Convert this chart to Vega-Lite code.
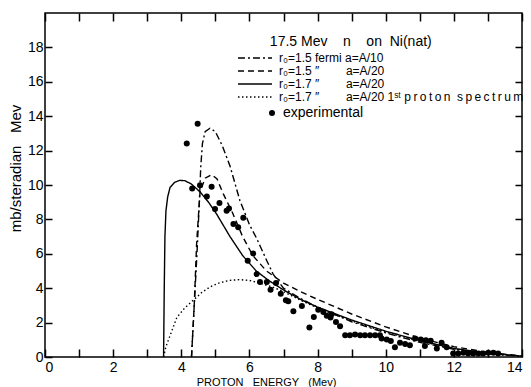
{
  "$schema": "https://vega.github.io/schema/vega-lite/v6.json",
  "width": 477,
  "height": 344,
  "autosize": {"type": "none"},
  "padding": {"left": 45, "top": 13, "right": 9, "bottom": 30},
  "background": "white",
  "config": {
    "view": {"stroke": "black", "strokeWidth": 1.5},
    "font": "Liberation Sans",
    "legend": {"padding": 0},
    "axis": {
      "grid": false,
      "domain": false,
      "ticks": true,
      "tickColor": "black",
      "tickWidth": 1.5,
      "tickOpacity": 1,
      "labelColor": "black",
      "titleColor": "black",
      "labelFont": "Liberation Sans",
      "titleFont": "Liberation Sans",
      "titleFontWeight": "normal",
      "labelFontSize": 14
    }
  },
  "datasets": {
    "curves": [
      {"model": "A", "x": 4.3, "y": 0}, {"model": "A", "x": 4.38, "y": 3}, {"model": "A", "x": 4.46, "y": 6}, {"model": "A", "x": 4.53, "y": 9}, {"model": "A", "x": 4.57, "y": 11}, {"model": "A", "x": 4.62, "y": 12.4}, {"model": "A", "x": 4.7, "y": 13.1}, {"model": "A", "x": 4.84, "y": 13.3}, {"model": "A", "x": 5.0, "y": 13.1}, {"model": "A", "x": 5.2, "y": 12.3}, {"model": "A", "x": 5.43, "y": 11.1}, {"model": "A", "x": 5.72, "y": 9.1}, {"model": "A", "x": 6.0, "y": 7.7}, {"model": "A", "x": 6.21, "y": 6.9}, {"model": "A", "x": 6.51, "y": 5.6}, {"model": "A", "x": 6.7, "y": 4.8}, {"model": "A", "x": 7.0, "y": 4.0}, {"model": "A", "x": 7.5, "y": 3.4}, {"model": "A", "x": 8, "y": 2.9}, {"model": "A", "x": 9, "y": 2.05}, {"model": "A", "x": 10, "y": 1.4}, {"model": "A", "x": 11, "y": 0.85}, {"model": "A", "x": 12, "y": 0.45}, {"model": "A", "x": 13, "y": 0.18}, {"model": "A", "x": 14, "y": 0.04},
      {"model": "B", "x": 4.3, "y": 0}, {"model": "B", "x": 4.38, "y": 3}, {"model": "B", "x": 4.45, "y": 6.6}, {"model": "B", "x": 4.55, "y": 9.6}, {"model": "B", "x": 4.7, "y": 10.4}, {"model": "B", "x": 4.89, "y": 10.6}, {"model": "B", "x": 5.05, "y": 10.35}, {"model": "B", "x": 5.23, "y": 9.5}, {"model": "B", "x": 5.5, "y": 8.4}, {"model": "B", "x": 5.8, "y": 7.0}, {"model": "B", "x": 6.1, "y": 5.9}, {"model": "B", "x": 6.5, "y": 5.0}, {"model": "B", "x": 7, "y": 4.3}, {"model": "B", "x": 7.5, "y": 3.8}, {"model": "B", "x": 8, "y": 3.35}, {"model": "B", "x": 9, "y": 2.5}, {"model": "B", "x": 10, "y": 1.75}, {"model": "B", "x": 11, "y": 1.1}, {"model": "B", "x": 12, "y": 0.6}, {"model": "B", "x": 13, "y": 0.27}, {"model": "B", "x": 14, "y": 0.06},
      {"model": "C", "x": 3.48, "y": 0}, {"model": "C", "x": 3.5, "y": 4}, {"model": "C", "x": 3.52, "y": 7}, {"model": "C", "x": 3.55, "y": 8.5}, {"model": "C", "x": 3.6, "y": 9.3}, {"model": "C", "x": 3.67, "y": 9.86}, {"model": "C", "x": 3.8, "y": 10.15}, {"model": "C", "x": 3.95, "y": 10.27}, {"model": "C", "x": 4.11, "y": 10.25}, {"model": "C", "x": 4.3, "y": 10.05}, {"model": "C", "x": 4.55, "y": 9.6}, {"model": "C", "x": 4.8, "y": 9.0}, {"model": "C", "x": 5.04, "y": 8.3}, {"model": "C", "x": 5.43, "y": 7.0}, {"model": "C", "x": 5.8, "y": 5.9}, {"model": "C", "x": 6.2, "y": 5.0}, {"model": "C", "x": 6.6, "y": 4.4}, {"model": "C", "x": 7, "y": 3.9}, {"model": "C", "x": 7.5, "y": 3.35}, {"model": "C", "x": 8, "y": 2.9}, {"model": "C", "x": 9, "y": 2.15}, {"model": "C", "x": 10, "y": 1.5}, {"model": "C", "x": 11, "y": 0.95}, {"model": "C", "x": 12, "y": 0.5}, {"model": "C", "x": 13, "y": 0.22}, {"model": "C", "x": 14, "y": 0.05},
      {"model": "D", "x": 3.48, "y": 0}, {"model": "D", "x": 3.55, "y": 0.6}, {"model": "D", "x": 3.7, "y": 1.4}, {"model": "D", "x": 3.87, "y": 2.3}, {"model": "D", "x": 4.1, "y": 2.85}, {"model": "D", "x": 4.35, "y": 3.3}, {"model": "D", "x": 4.6, "y": 3.75}, {"model": "D", "x": 4.84, "y": 4.07}, {"model": "D", "x": 5.1, "y": 4.3}, {"model": "D", "x": 5.4, "y": 4.45}, {"model": "D", "x": 5.7, "y": 4.5}, {"model": "D", "x": 6.0, "y": 4.45}, {"model": "D", "x": 6.3, "y": 4.3}, {"model": "D", "x": 6.7, "y": 4.05}, {"model": "D", "x": 7, "y": 3.8}, {"model": "D", "x": 7.5, "y": 3.3}, {"model": "D", "x": 8, "y": 2.85}, {"model": "D", "x": 9, "y": 2.1}, {"model": "D", "x": 10, "y": 1.45}, {"model": "D", "x": 11, "y": 0.92}, {"model": "D", "x": 12, "y": 0.48}, {"model": "D", "x": 13, "y": 0.2}, {"model": "D", "x": 14, "y": 0.05}
    ],
    "expt": [
      {"kind": "experimental", "x": 4.48, "y": 13.56}, {"kind": "experimental", "x": 4.16, "y": 12.42}, {"kind": "experimental", "x": 4.32, "y": 9.8}, {"kind": "experimental", "x": 4.55, "y": 9.99}, {"kind": "experimental", "x": 4.89, "y": 9.9}, {"kind": "experimental", "x": 4.75, "y": 9.33}, {"kind": "experimental", "x": 5.12, "y": 8.95}, {"kind": "experimental", "x": 4.99, "y": 8.6}, {"kind": "experimental", "x": 5.33, "y": 8.5}, {"kind": "experimental", "x": 5.4, "y": 8.64}, {"kind": "experimental", "x": 5.82, "y": 8.1}, {"kind": "experimental", "x": 5.53, "y": 7.73}, {"kind": "experimental", "x": 5.67, "y": 7.54}, {"kind": "experimental", "x": 6.11, "y": 6.02}, {"kind": "experimental", "x": 5.95, "y": 5.6}, {"kind": "experimental", "x": 6.21, "y": 4.82}, {"kind": "experimental", "x": 6.31, "y": 4.36}, {"kind": "experimental", "x": 6.51, "y": 4.36}, {"kind": "experimental", "x": 6.62, "y": 3.91}, {"kind": "experimental", "x": 6.78, "y": 4.3}, {"kind": "experimental", "x": 6.92, "y": 3.68}, {"kind": "experimental", "x": 7.07, "y": 3.3}, {"kind": "experimental", "x": 7.14, "y": 3.24}, {"kind": "experimental", "x": 7.29, "y": 2.66}, {"kind": "experimental", "x": 7.54, "y": 2.97}, {"kind": "experimental", "x": 7.89, "y": 2.33}, {"kind": "experimental", "x": 7.76, "y": 1.72}, {"kind": "experimental", "x": 8.02, "y": 2.75}, {"kind": "experimental", "x": 8.17, "y": 2.62}, {"kind": "experimental", "x": 8.27, "y": 2.4}, {"kind": "experimental", "x": 8.41, "y": 2.49}, {"kind": "experimental", "x": 8.38, "y": 2.3}, {"kind": "experimental", "x": 8.54, "y": 2.04}, {"kind": "experimental", "x": 8.66, "y": 1.79}, {"kind": "experimental", "x": 8.81, "y": 1.27}, {"kind": "experimental", "x": 8.95, "y": 1.27}, {"kind": "experimental", "x": 9.1, "y": 1.31}, {"kind": "experimental", "x": 9.25, "y": 1.27}, {"kind": "experimental", "x": 9.39, "y": 1.27}, {"kind": "experimental", "x": 9.54, "y": 1.27}, {"kind": "experimental", "x": 9.69, "y": 1.27}, {"kind": "experimental", "x": 9.83, "y": 1.27}, {"kind": "experimental", "x": 9.88, "y": 1.08}, {"kind": "experimental", "x": 10.03, "y": 1.02}, {"kind": "experimental", "x": 10.15, "y": 0.93}, {"kind": "experimental", "x": 10.27, "y": 0.56}, {"kind": "experimental", "x": 10.42, "y": 0.83}, {"kind": "experimental", "x": 10.57, "y": 0.75}, {"kind": "experimental", "x": 10.71, "y": 0.69}, {"kind": "experimental", "x": 10.86, "y": 1.08}, {"kind": "experimental", "x": 11.03, "y": 1.02}, {"kind": "experimental", "x": 11.18, "y": 0.98}, {"kind": "experimental", "x": 11.32, "y": 0.94}, {"kind": "experimental", "x": 11.15, "y": 0.64}, {"kind": "experimental", "x": 11.5, "y": 0.5}, {"kind": "experimental", "x": 11.64, "y": 0.83}, {"kind": "experimental", "x": 11.79, "y": 0.56}, {"kind": "experimental", "x": 11.98, "y": 0.21}, {"kind": "experimental", "x": 12.13, "y": 0.21}, {"kind": "experimental", "x": 12.28, "y": 0.24}, {"kind": "experimental", "x": 12.42, "y": 0.21}, {"kind": "experimental", "x": 12.57, "y": 0.21}, {"kind": "experimental", "x": 12.72, "y": 0.21}, {"kind": "experimental", "x": 12.86, "y": 0.21}, {"kind": "experimental", "x": 13.01, "y": 0.24}, {"kind": "experimental", "x": 13.16, "y": 0.24}, {"kind": "experimental", "x": 13.3, "y": 0.21}
    ]
  },
  "layer": [
    {
      "data": {"name": "curves"},
      "mark": {"type": "line", "color": "black", "strokeWidth": 1.4},
      "encoding": {
        "x": {
          "field": "x", "type": "quantitative",
          "scale": {"domain": [0, 14], "nice": false},
          "axis": {
            "orient": "bottom",
            "values": [0, 1, 2, 3, 4, 5, 6, 7, 8, 9, 10, 11, 12, 13, 14],
            "labelExpr": "datum.value % 2 === 0 ? datum.label : ''",
            "offset": -8,
            "tickSize": 8,
            "labelPadding": 3,
            "title": "PROTON\u00a0\u00a0\u00a0ENERGY\u00a0\u00a0\u00a0(Mev)",
            "titleFontSize": 11,
            "titleX": 221,
            "titleY": 36,
            "titleBaseline": "alphabetic"
          }
        },
        "y": {
          "field": "y", "type": "quantitative",
          "scale": {"domain": [0, 20], "nice": false},
          "axis": {
            "orient": "left",
            "values": [0, 2, 4, 6, 8, 10, 12, 14, 16, 18],
            "offset": -7,
            "tickSize": 7,
            "labelPadding": 2,
            "title": "mb/steradian\u00a0\u00a0\u00a0Mev",
            "titleFontSize": 15,
            "titleAngle": -90,
            "titleX": -37,
            "titleY": 155,
            "titleBaseline": "middle",
            "titleAlign": "center"
          }
        },
        "strokeDash": {
          "field": "model", "type": "nominal",
          "scale": {"domain": ["A", "B", "C", "D"], "range": [[7, 3, 2, 3], [6, 4], [1, 0], [1.5, 2.5]]},
          "legend": {
            "orient": "none",
            "legendX": 204,
            "legendY": 39,
            "title": null,
            "symbolType": "M-5.667,0H5.667",
            "symbolSize": 36,
            "symbolStrokeColor": "black",
            "symbolStrokeWidth": 1.3,
            "labelFontSize": 12,
            "labelFont": "Liberation Sans",
            "labelColor": "black",
            "labelOffset": 18,
            "rowPadding": 1,
            "labelLimit": 400,
            "labelExpr": "datum.label == 'A' ? 'r\u2080=1.5 fermi\u00a0a=A/10' : datum.label == 'B' ? 'r\u2080=1.5\u00a0\u2033\u00a0\u00a0\u00a0\u00a0\u00a0\u00a0\u00a0\u00a0a=A/20' : datum.label == 'C' ? 'r\u2080=1.7\u00a0\u2033\u00a0\u00a0\u00a0\u00a0\u00a0\u00a0\u00a0\u00a0a=A/20' : 'r\u2080=1.7\u00a0\u2033\u00a0\u00a0\u00a0\u00a0\u00a0\u00a0\u00a0\u00a0a=A/20\u00a01\u02e2\u1d57\u00a0p\u2009r\u2009o\u2009t\u2009o\u2009n\u00a0\u00a0s\u2009p\u2009e\u2009c\u2009t\u2009r\u2009u\u2009m'"
          }
        }
      }
    },
    {
      "data": {"name": "expt"},
      "mark": {"type": "point", "filled": true, "color": "black", "size": 36, "opacity": 1},
      "encoding": {
        "x": {
          "field": "x", "type": "quantitative",
          "axis": {"orient": "top", "values": [0, 1, 2, 3, 4, 5, 6, 7, 8, 9, 10, 11, 12, 13, 14], "labels": false, "offset": -8, "tickSize": 8, "title": null}
        },
        "y": {
          "field": "y", "type": "quantitative",
          "axis": {"orient": "right", "values": [2, 4, 6, 8, 10, 12, 14, 16, 18], "labels": false, "offset": -7, "tickSize": 7, "title": null}
        },
        "shape": {
          "field": "kind", "type": "nominal",
          "scale": {"range": ["circle"]},
          "legend": {
            "orient": "none",
            "legendX": 220,
            "legendY": 93,
            "title": null,
            "symbolSize": 36,
            "symbolFillColor": "black",
            "symbolStrokeColor": "black",
            "labelFontSize": 14,
            "labelFont": "Liberation Sans",
            "labelColor": "black",
            "labelOffset": 4
          }
        }
      }
    },
    {
      "data": {"values": [{}]},
      "mark": {"type": "text", "align": "left", "baseline": "middle", "fontSize": 14, "font": "Liberation Sans", "color": "black"},
      "encoding": {
        "x": {"datum": 6.6, "type": "quantitative", "axis": null},
        "y": {"datum": 18.3, "type": "quantitative", "axis": null},
        "text": {"value": "17.5 Mev\u00a0\u00a0\u00a0\u00a0n\u00a0\u00a0\u00a0\u00a0on\u00a0\u00a0Ni(nat)"}
      }
    }
  ],
  "resolve": {"axis": {"x": "independent", "y": "independent"}}
}
